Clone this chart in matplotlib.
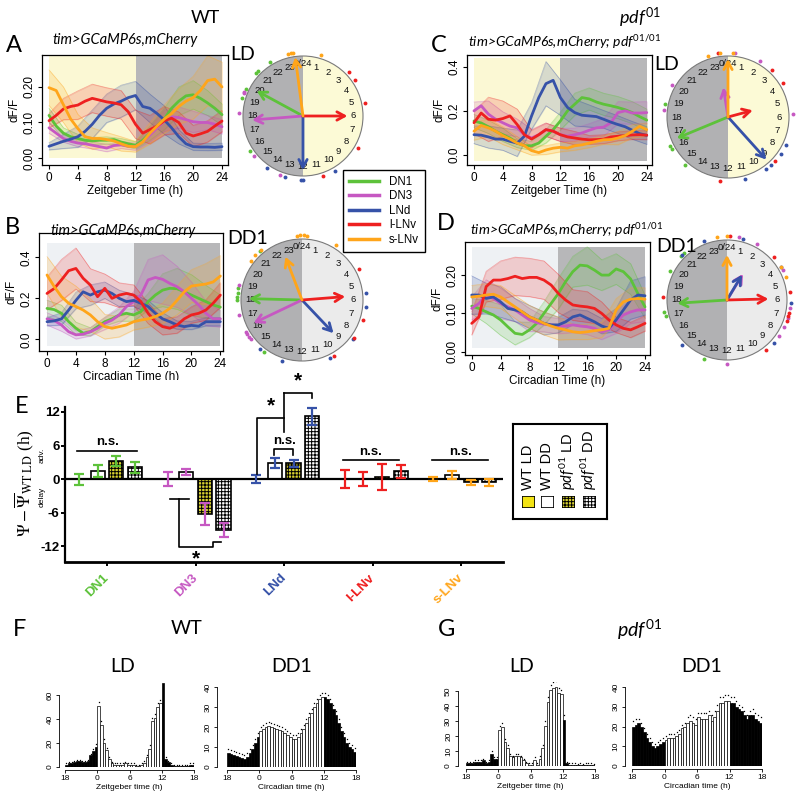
import numpy as np
import matplotlib
matplotlib.use('Agg')
import matplotlib.pyplot as plt
from matplotlib.patches import Wedge, Circle, Rectangle
from matplotlib.lines import Line2D

plt.rcParams['font.family'] = ['Liberation Sans', 'DejaVu Sans']
plt.rcParams['mathtext.fontset'] = 'custom'
plt.rcParams['mathtext.it'] = 'Lato:italic'
plt.rcParams['mathtext.rm'] = 'Lato'
plt.rcParams['mathtext.bf'] = 'Lato:bold'
plt.rcParams['hatch.linewidth'] = 0.7

# ---------------- data ----------------
cells = ['DN1', 'DN3', 'LNd', 'l-LNv', 's-LNv']
cell_colors = ['#5dc23a', '#c658c2', '#3652a8', '#ee2020', '#ffa51a']
hours = list(range(25))
hours2 = list(range(0, 25, 2))

# Panel A (WT, LD)
A_DN1 = [0.12,0.09,0.07,0.06,0.055,0.05,0.048,0.05,0.05,0.052,0.045,0.04,0.036,0.05,0.07,0.09,0.11,0.14,0.16,0.175,0.178,0.168,0.155,0.14,0.122]
A_DN3 = [0.085,0.07,0.055,0.047,0.042,0.04,0.036,0.032,0.028,0.035,0.037,0.033,0.032,0.045,0.065,0.085,0.105,0.116,0.114,0.108,0.102,0.1,0.1,0.095,0.088]
A_LNd = [0.033,0.04,0.047,0.053,0.06,0.075,0.095,0.12,0.14,0.152,0.16,0.17,0.176,0.145,0.14,0.125,0.107,0.085,0.06,0.04,0.032,0.031,0.031,0.03,0.032]
A_lLNv = [0.105,0.12,0.138,0.145,0.149,0.16,0.168,0.163,0.158,0.155,0.15,0.13,0.095,0.07,0.08,0.09,0.105,0.112,0.1,0.07,0.062,0.068,0.075,0.09,0.104]
A_sLNv = [0.198,0.19,0.15,0.11,0.083,0.06,0.055,0.055,0.052,0.048,0.04,0.033,0.032,0.045,0.07,0.09,0.11,0.125,0.145,0.16,0.17,0.19,0.218,0.222,0.2]
semA_DN1 = [0.02,0.015,0.012,0.01,0.01,0.01,0.01,0.02,0.03,0.04,0.04,0.035,0.03]
semA_DN3 = [0.015,0.01,0.01,0.01,0.01,0.01,0.01,0.02,0.03,0.03,0.03,0.02,0.02]
semA_LNd = [0.01,0.02,0.03,0.04,0.04,0.045,0.04,0.04,0.04,0.02,0.01,0.01,0.01]
semA_lLNv = [0.02,0.03,0.04,0.04,0.04,0.04,0.04,0.04,0.04,0.03,0.03,0.03,0.03]
semA_sLNv = [0.05,0.05,0.04,0.03,0.02,0.02,0.015,0.03,0.04,0.05,0.06,0.07,0.07]

# Panel B (WT, DD1)
B_DN1 = [0.151,0.145,0.127,0.086,0.054,0.03,0.037,0.062,0.086,0.1,0.119,0.127,0.119,0.135,0.184,0.216,0.24,0.249,0.247,0.232,0.216,0.2,0.184,0.168,0.157]
B_DN3 = [0.1,0.092,0.07,0.037,0.022,0.025,0.037,0.054,0.078,0.094,0.119,0.16,0.184,0.216,0.29,0.302,0.293,0.273,0.257,0.232,0.2,0.168,0.127,0.1,0.1]
B_LNd = [0.086,0.09,0.1,0.143,0.19,0.232,0.216,0.232,0.24,0.224,0.2,0.184,0.19,0.176,0.16,0.127,0.1,0.086,0.07,0.062,0.068,0.064,0.086,0.086,0.086]
B_lLNv = [0.224,0.248,0.29,0.335,0.346,0.298,0.265,0.208,0.249,0.2,0.216,0.224,0.216,0.184,0.127,0.086,0.062,0.054,0.07,0.1,0.119,0.127,0.143,0.176,0.216]
B_sLNv = [0.314,0.257,0.208,0.176,0.16,0.143,0.119,0.086,0.062,0.054,0.062,0.07,0.086,0.094,0.1,0.111,0.127,0.151,0.19,0.232,0.26,0.265,0.27,0.28,0.309]
semB_DN1 = [0.04,0.04,0.03,0.02,0.02,0.03,0.03,0.04,0.08,0.1,0.1,0.08,0.06]
semB_DN3 = [0.03,0.03,0.02,0.02,0.03,0.04,0.05,0.1,0.12,0.1,0.08,0.06,0.04]
semB_LNd = [0.02,0.03,0.04,0.05,0.04,0.04,0.03,0.03,0.03,0.02,0.02,0.02,0.02]
semB_lLNv = [0.08,0.1,0.1,0.08,0.07,0.06,0.05,0.05,0.04,0.04,0.04,0.05,0.06]
semB_sLNv = [0.09,0.1,0.1,0.08,0.06,0.05,0.04,0.04,0.05,0.07,0.08,0.1,0.1]

# Panel C (pdf01, LD)
C_DN1 = [0.154,0.145,0.128,0.108,0.092,0.077,0.054,0.042,0.042,0.054,0.085,0.115,0.154,0.2,0.23,0.26,0.254,0.24,0.23,0.223,0.215,0.205,0.192,0.174,0.158]
C_DN3 = [0.2,0.223,0.185,0.162,0.146,0.131,0.123,0.092,0.077,0.092,0.115,0.108,0.092,0.085,0.092,0.1,0.112,0.123,0.126,0.146,0.192,0.2,0.19,0.19,0.192]
C_LNd = [0.092,0.09,0.082,0.072,0.072,0.062,0.054,0.085,0.177,0.26,0.323,0.338,0.26,0.215,0.192,0.18,0.177,0.174,0.162,0.149,0.138,0.128,0.112,0.097,0.089]
C_lLNv = [0.146,0.19,0.162,0.158,0.165,0.177,0.138,0.092,0.072,0.092,0.115,0.108,0.092,0.082,0.077,0.072,0.069,0.07,0.072,0.082,0.085,0.088,0.091,0.092,0.09]
C_sLNv = [0.108,0.134,0.123,0.108,0.088,0.072,0.054,0.042,0.02,0.011,0.023,0.031,0.035,0.031,0.042,0.046,0.054,0.062,0.069,0.07,0.077,0.088,0.108,0.13,0.115]
semC_DN1 = [0.03,0.03,0.03,0.02,0.02,0.03,0.04,0.05,0.05,0.05,0.05,0.05,0.05]
semC_DN3 = [0.04,0.06,0.05,0.04,0.04,0.03,0.03,0.03,0.03,0.04,0.05,0.05,0.05]
semC_LNd = [0.04,0.05,0.05,0.06,0.06,0.1,0.08,0.06,0.05,0.04,0.04,0.04,0.04]
semC_lLNv = [0.05,0.1,0.08,0.07,0.04,0.03,0.03,0.03,0.02,0.02,0.02,0.02,0.02]
semC_sLNv = [0.04,0.04,0.04,0.03,0.02,0.02,0.02,0.02,0.02,0.02,0.03,0.03,0.03]

# Panel D (pdf01, DD1)
D_DN1 = [0.119,0.113,0.104,0.096,0.083,0.065,0.048,0.045,0.057,0.074,0.1,0.126,0.152,0.183,0.209,0.226,0.224,0.213,0.2,0.2,0.216,0.209,0.19,0.152,0.117]
D_DN3 = [0.113,0.126,0.148,0.139,0.126,0.117,0.109,0.096,0.083,0.076,0.072,0.07,0.067,0.067,0.07,0.067,0.065,0.061,0.052,0.057,0.078,0.096,0.104,0.109,0.109]
D_LNd = [0.148,0.148,0.139,0.143,0.13,0.113,0.109,0.104,0.091,0.083,0.074,0.07,0.07,0.078,0.091,0.096,0.087,0.078,0.067,0.061,0.083,0.109,0.135,0.148,0.146]
D_lLNv = [0.074,0.091,0.17,0.187,0.187,0.191,0.197,0.191,0.194,0.194,0.187,0.174,0.152,0.135,0.122,0.119,0.117,0.113,0.1,0.083,0.07,0.061,0.057,0.065,0.074]
D_sLNv = [0.143,0.145,0.148,0.15,0.143,0.13,0.117,0.104,0.091,0.083,0.074,0.067,0.061,0.057,0.052,0.05,0.052,0.055,0.057,0.061,0.109,0.13,0.137,0.139,0.137]
semD_DN1 = [0.02,0.03,0.04,0.03,0.02,0.03,0.04,0.04,0.05,0.04,0.04,0.04,0.03]
semD_DN3 = [0.03,0.04,0.04,0.03,0.03,0.02,0.02,0.02,0.02,0.02,0.03,0.03,0.03]
semD_LNd = [0.05,0.04,0.04,0.03,0.03,0.03,0.02,0.02,0.02,0.02,0.03,0.05,0.05]
semD_lLNv = [0.03,0.04,0.05,0.05,0.05,0.05,0.05,0.04,0.04,0.03,0.02,0.02,0.02]
semD_sLNv = [0.03,0.03,0.03,0.03,0.03,0.03,0.03,0.02,0.02,0.02,0.03,0.03,0.03]

# Phase clocks: mean phase (h), vector length (fraction of radius), individual phases
clkA_phase = [19.9, 17.7, 12.0, 6.0, 23.5]
clkA_len = [0.88, 0.85, 0.90, 0.74, 0.99]
clkB_phase = [18.1, 16.3, 9.1, 5.7, 22.6]
clkB_len = [0.87, 0.88, 0.75, 0.71, 0.76]
clkC_phase = [16.5, 23.4, 9.2, 5.0, 0.0]
clkC_len = [0.91, 0.49, 0.94, 0.42, 0.95]
clkD_phase = [17.75, 2.1, 2.05, 5.9, 0.0]
clkD_len = [0.83, 0.51, 0.49, 0.69, 0.75]
dotsA = [[15.8, 19.1, 19.7, 20.8, 21.0, 21.9], [13.4, 15.4, 18.2, 19.4, 19.5],
         [10.0, 12.0, 12.1, 13.1, 14.3], [3.1, 3.7, 5.2, 8.0, 10.8], [23.1, 23.3, 23.4, 1.1]]
dotsB = [[21.3, 18.4, 18.0, 18.7, 14.4, 18.2], [18.9, 17.1, 15.7, 15.5, 15.9, 16.0],
         [5.6, 6.4, 8.5, 10.3, 13.2, 14.7], [4.1, 7.2, 8.4, 10.0],
         [23.7, 23.9, 0.1, 0.3, 2.1, 20.5, 20.9, 21.4]]
dotsC = [[18.8, 16.2, 16.0, 14.8], [0.4, 2.0, 5.8, 20.0, 18.4],
         [7.7, 8.3, 9.2, 9.6, 11.0], [23.4, 2.85, 3.9, 8.85, 12.5], [22.8, 23.5, 0.3]]
dotsD = [[21.2, 20.9, 19.8, 17.3, 17.0, 13.4], [0.7, 1.9, 7.7, 7.1, 6.5, 12.0, 4.1, 8.3],
         [1.0, 22.6, 21.0, 3.9, 6.2, 8.8, 15.0], [3.2, 5.5, 6.8, 7.0, 7.3, 9.5, 18.2, 0.2],
         [23.4, 0.0, 3.9, 4.6]]

# Panel E: phase differences (h)
E_WT_LD = [0.0, 0.0, 0.0, 0.0, 0.0]
E_WT_LD_err = [1.0, 1.3, 0.7, 1.6, 0.4]
E_WT_DD = [1.5, 1.3, 2.8, 0.0, 0.8]
E_WT_DD_err = [1.1, 0.5, 0.9, 1.3, 0.7]
E_pdf_LD = [3.3, -6.2, 2.8, 0.4, -0.6]
E_pdf_LD_err = [0.9, 2.0, 0.65, 2.3, 0.5]
E_pdf_DD = [2.1, -9.1, 11.2, 1.4, -0.6]
E_pdf_DD_err = [1.0, 1.2, 1.5, 1.2, 0.7]

# Panels F, G: activity (counts per 30 min, from ZT/CT18 to 18)
F_LD = [2,3,3,4,5,5,4,4,5,10,13,17, 51,35,20,14,7,3,2,2,2,2,3,2,
        2,2,1,1,2,3,8,15,38,41,50,53, 70,7,4,2,1,1,1,1,1,1,2,2]
F_LD_err = [1,1,1,1,1,1,1,1,1,1,2,2, 3,3,3,2,1,1,1,1,1,1,1,1,
            1,1,1,1,1,2,2,3,3,3,3,3, 3,1,1,1,1,1,1,1,1,1,1,1]
F_DD = [7,6.5,6,5.5,5,4.5,4,5,7,9,12,15, 18,19,20,20.5,20,19.5,19,18.5,18,17,16,15,
        14,14,15,17,19,22,25,27,30,32,34,35, 35,34,32,29,26,22,18,15,12,10,9,7.5]
F_DD_err = [2,2,2,2,2,2,2,2,2,2,2,2, 2,2,2,2,2,2,2,2,2,2,2,2,
            2,2,2,2,2,2,2,2,2,2,2,2, 2,2,2,2,2,2,2,2,2,2,2,2]
G_LD = [2,2,2,3,3,3,4,2,3,8,5,5, 24,26,16,12,7,6,7,7,6,4,2,1,
        1,4,1,5,12,27,43,51,52,53,49,48, 31,2,1,1,1,0.5,1,0.5,1,1,1,0.5]
G_LD_err = [1,1,1,1,1,1,1,1,1,2,1,1, 3,3,2,2,1,1,1,1,1,1,1,1,
            1,2,1,2,2,3,3,3,4,4,3,3, 3,1,1,1,1,1,1,1,1,1,1,1]
G_DD = [20,21,22,20,17,14,12,10,9,10,11,12, 13,14,14,14,15,16,19,20,22,23,22,21,
        25,24,24,24,26,23,25,28,32,32,33,33, 32,32,30,29,28,26,24,26,26,24,23,22]
G_DD_err = [3,3,2,2,2,2,2,2,2,2,2,2, 2,2,2,2,2,2,2,2,3,3,3,3,
            2,3,3,3,2,3,3,3,3,3,3,3, 3,3,3,2,2,2,2,2,3,3,3,3]

# ---------------- figure ----------------
W, H = 800, 797
fig = plt.figure(figsize=(8, 7.97), dpi=100)
HEAD = 'Lato'


def rect(l, t, r, b):
    return [l / W, 1 - b / H, (r - l) / W, (b - t) / H]


def ftext(x, y, s, **kw):
    return fig.text(x / W, 1 - y / H, s, **kw)


def trace_panel(box, means, sems, xlim, ylim, yticks, ylabs, shade, light, xlabel):
    ax = fig.add_axes(rect(*box))
    ax.add_patch(Rectangle((0, shade[0]), 12, shade[1] - shade[0], fc=light, ec='none', zorder=0))
    ax.add_patch(Rectangle((12, shade[0]), 12, shade[1] - shade[0], fc='#b7b7b9', ec='none', zorder=0))
    for m, s, c in zip(means, sems, cell_colors):
        m = np.array(m)
        s = np.array(s)
        mc = m[::2]
        ax.fill_between(hours2, mc - s, mc + s, color=c, alpha=0.18, lw=0.6, zorder=1)
        ax.plot(hours2, mc - s, color=c, alpha=0.35, lw=0.5, zorder=1)
        ax.plot(hours2, mc + s, color=c, alpha=0.35, lw=0.5, zorder=1)
    for m, c in zip(means, cell_colors):
        ax.plot(hours, m, color=c, lw=2, zorder=3, solid_capstyle='round')
    ax.set_xlim(*xlim)
    ax.set_ylim(*ylim)
    ax.set_xticks([0, 4, 8, 12, 16, 20, 24])
    ax.set_yticks(yticks)
    ax.set_yticklabels(ylabs, rotation=90, va='center')
    ax.tick_params(direction='out', length=3, width=0.8, labelsize=8.5, pad=2)
    for sp in ax.spines.values():
        sp.set_linewidth(0.9)
    ax.set_xlabel(xlabel, fontsize=8.5, labelpad=1)
    ax.set_ylabel('dF/F', fontsize=8.5, labelpad=2)
    return ax


def clock(cx, cy, r, dd, phases, lens, dots):
    s = r * 1.35
    ax = fig.add_axes(rect(cx - s, cy - s, cx + s, cy + s))
    ax.set_xlim(-1.35, 1.35)
    ax.set_ylim(-1.35, 1.35)
    ax.axis('off')
    right = '#ebebeb' if dd else '#fcfad6'
    ax.add_patch(Wedge((0, 0), 1, -90, 90, fc=right, ec='none'))
    ax.add_patch(Wedge((0, 0), 1, 90, 270, fc='#b1b1b3', ec='none'))
    ax.add_patch(Circle((0, 0), 1, fc='none', ec='#7a7a7a', lw=0.8))
    for h in range(24):
        th = np.deg2rad(90 - 15 * h)
        lab = '0/24' if h == 0 else str(h)
        rr = 0.87 if h == 0 else 0.84
        ax.text(rr * np.cos(th), rr * np.sin(th), lab, ha='center', va='center',
                fontsize=6.8, color='#111111')
    for ph_list, c in zip(dots, cell_colors):
        for ph in ph_list:
            th = np.deg2rad(90 - 15 * ph)
            ax.plot(1.06 * np.cos(th), 1.06 * np.sin(th), 'o', ms=2.8, color=c, mec='none',
                    clip_on=False)
    for ph, L, c in zip(phases, lens, cell_colors):
        th = np.deg2rad(90 - 15 * ph)
        ax.annotate('', xy=(L * np.cos(th), L * np.sin(th)), xytext=(0, 0),
                    arrowprops=dict(arrowstyle='->,head_length=0.55,head_width=0.3', color=c,
                                    lw=2, shrinkA=0, shrinkB=0))
    return ax


# headers
ftext(205, 18, 'WT', fontsize=13, family=HEAD, ha='center', va='center')
ftext(640, 18, r'$\mathit{pdf}^{\mathit{01}}$', fontsize=13, ha='center', va='center')
for lab, x, y in [('A', 14, 46), ('B', 12, 227), ('C', 439, 45), ('D', 446, 223),
                  ('E', 22, 407), ('F', 20, 629), ('G', 447, 629)]:
    ftext(x, y, lab, fontsize=17, family=HEAD, ha='center', va='center')

ftext(52, 40, 'tim>GCaMP6s,mCherry', fontsize=10.5, family=HEAD, style='italic', va='center')
ftext(50, 231, 'tim>GCaMP6s,mCherry', fontsize=10.5, family=HEAD, style='italic', va='center')
ftext(468, 42, r'tim>GCaMP6s,mCherry; $\mathit{pdf}^{\mathit{01/01}}$', fontsize=10,
      family=HEAD, style='italic', va='center')
ftext(470, 230, r'tim>GCaMP6s,mCherry; $\mathit{pdf}^{\mathit{01/01}}$', fontsize=10,
      family=HEAD, style='italic', va='center')
ftext(243, 55, 'LD', fontsize=14, family=HEAD, ha='center', va='center')
ftext(667, 65, 'LD', fontsize=14, family=HEAD, ha='center', va='center')
ftext(248, 239, 'DD1', fontsize=14, family=HEAD, ha='center', va='center')
ftext(677, 247, 'DD1', fontsize=14, family=HEAD, ha='center', va='center')

# panels A-D traces
trace_panel((42, 55, 228, 165), [A_DN1, A_DN3, A_LNd, A_lLNv, A_sLNv],
            [semA_DN1, semA_DN3, semA_LNd, semA_lLNv, semA_sLNv],
            (-0.97, 24.83), (-0.0197, 0.290), [0, 0.1, 0.2], ['0.00', '0.10', '0.20'],
            (0.0, 0.286), '#fbf8d4', 'Zeitgeber Time (h)')
trace_panel((39, 233, 223, 351), [B_DN1, B_DN3, B_LNd, B_lLNv, B_sLNv],
            [semB_DN1, semB_DN3, semB_LNd, semB_lLNv, semB_sLNv],
            (-1.11, 24.37), (-0.057, 0.519), [0, 0.2, 0.4], ['0.0', '0.2', '0.4'],
            (-0.033, 0.47), '#eef1f4', 'Circadian Time (h)')
trace_panel((467, 55, 652, 165), [C_DN1, C_DN3, C_LNd, C_lLNv, C_sLNv],
            [semC_DN1, semC_DN3, semC_LNd, semC_lLNv, semC_sLNv],
            (-0.97, 24.73), (-0.045, 0.4525), [0, 0.2, 0.4], ['0.0', '0.2', '0.4'],
            (-0.026, 0.439), '#fbf8d4', 'Zeitgeber Time (h)')
trace_panel((465, 242, 650, 355), [D_DN1, D_DN3, D_LNd, D_lLNv, D_sLNv],
            [semD_DN1, semD_DN3, semD_LNd, semD_lLNv, semD_sLNv],
            (-0.93, 24.69), (-0.0086, 0.2864), [0, 0.1, 0.2], ['0.00', '0.10', '0.20'],
            (0.0104, 0.273), '#eef1f4', 'Circadian Time (h)')

clock(303, 116, 60, False, clkA_phase, clkA_len, dotsA)
clock(302, 300, 61, True, clkB_phase, clkB_len, dotsB)
clock(728, 117, 61, False, clkC_phase, clkC_len, dotsC)
clock(727, 300, 60, True, clkD_phase, clkD_len, dotsD)

handles = [Line2D([], [], color=c, lw=2.5) for c in cell_colors]
fig.legend(handles, cells, loc='upper left', bbox_to_anchor=(343 / W, 1 - 170 / H),
           borderaxespad=0, frameon=True, fancybox=False, edgecolor='black', framealpha=1,
           fontsize=8.3, handlelength=2.6, borderpad=0.5, labelspacing=0.22, handletextpad=0.9)

# ---------------- panel E ----------------
axE = fig.add_axes(rect(65, 380, 503, 562))
axE.set_xlim(-0.475, 4.47)
axE.set_ylim(-14.8, 17.7)
offs = [-0.315, -0.105, 0.105, 0.315]
series = [(E_WT_LD, E_WT_LD_err, '#f2e313', None),
          (E_WT_DD, E_WT_DD_err, 'white', None),
          (E_pdf_LD, E_pdf_LD_err, '#d8d030', '+++++'),
          (E_pdf_DD, E_pdf_DD_err, 'white', '+++++')]
xs = np.arange(5)
for j, (vals, errs, fc, hatch) in enumerate(series):
    axE.bar(xs + offs[j], vals, 0.16, color=fc, edgecolor='black', hatch=hatch, lw=1.2, zorder=2)
    for i in range(5):
        axE.errorbar(xs[i] + offs[j], vals[i], yerr=errs[i], color=cell_colors[i], capsize=3.5,
                     elinewidth=1.6, capthick=1.6, zorder=4)
axE.plot([-0.475, 4.47], [0, 0], color='black', lw=1.6, zorder=3)
axE.spines['top'].set_visible(False)
axE.spines['right'].set_visible(False)
axE.spines['left'].set_bounds(-14.8, 12.9)
axE.spines['left'].set_linewidth(1.6)
axE.spines['bottom'].set_linewidth(2)
axE.set_yticks([-12, -6, 0, 6, 12])
axE.set_yticklabels(['-12', '-6', '0', '6', '12'], fontweight='bold', fontsize=9.5)
axE.set_xticks(xs)
axE.set_xticklabels(cells, rotation=45, ha='right', va='center', rotation_mode='anchor',
                    fontweight='bold', fontsize=9.5)
for tl, c in zip(axE.get_xticklabels(), cell_colors):
    tl.set_color(c)
axE.tick_params(axis='y', direction='out', length=3, width=1.4, pad=1)
axE.tick_params(axis='x', direction='out', length=3, width=1.4, pad=7)

kw = dict(color='black', lw=1.2, clip_on=False, zorder=5)
# DN1 n.s.
axE.plot([-0.34, 0.34], [5.05, 5.05], **kw)
axE.text(0.0, 5.5, 'n.s.', ha='center', va='bottom', fontsize=9.5, fontweight='bold')
# DN3 *
axE.plot([0.71, 0.92], [-3.6, -3.6], **kw)
axE.plot([0.81, 0.81, 1.2, 1.2, 1.29], [-3.6, -12.2, -12.2, -11.3, -11.3], **kw)
axE.text(1.0, -12.6, '*', ha='center', va='top', fontsize=15, fontweight='bold')
# LNd
axE.plot([1.69, 1.69, 2.0], [0.9, 10.9, 10.9], **kw)
axE.plot([2.0, 2.0], [8.4, 15.3], **kw)
axE.plot([2.0, 2.31, 2.31], [15.3, 15.3, 14.4], **kw)
axE.plot([1.88, 1.88, 2.1, 2.1], [4.3, 5.3, 5.3, 4.3], **kw)
axE.text(2.0, 5.8, 'n.s.', ha='center', va='bottom', fontsize=9.5, fontweight='bold')
axE.text(1.85, 11.3, '*', ha='center', va='bottom', fontsize=15, fontweight='bold')
axE.text(2.15, 15.8, '*', ha='center', va='bottom', fontsize=15, fontweight='bold')
# l-LNv, s-LNv n.s.
axE.plot([2.665, 3.3], [3.4, 3.4], **kw)
axE.text(2.98, 3.85, 'n.s.', ha='center', va='bottom', fontsize=9.5, fontweight='bold')
axE.plot([3.67, 4.305], [3.4, 3.4], **kw)
axE.text(3.99, 3.85, 'n.s.', ha='center', va='bottom', fontsize=9.5, fontweight='bold')

ftext(24, 483, r'$\Psi-\overline{\Psi}_{\mathrm{WT\ LD}}$ (h)', rotation=90, ha='center',
      va='center', fontsize=12.5, math_fontfamily='stix', family='Liberation Serif')
ftext(42, 455, 'adv.', rotation=90, ha='center', va='center', fontsize=6)
ftext(42, 497, 'delay', rotation=90, ha='center', va='center', fontsize=6)

# legend E
axL = fig.add_axes(rect(513, 424, 607, 519))
axL.set_xticks([])
axL.set_yticks([])
for sp in axL.spines.values():
    sp.set_linewidth(1.5)
leg_labels = ['WT LD', 'WT DD', r'$\mathit{pdf}^{\mathit{01}}$ LD', r'$\mathit{pdf}^{\mathit{01}}$ DD']
leg_x = [528, 547, 568, 589]
for lab, x, (_, _, fc, hatch) in zip(leg_labels, leg_x, series):
    ftext(x, 490, lab, rotation=90, ha='center', va='bottom', fontsize=10.5)
    sw = fig.add_axes(rect(x - 6.5, 496, x + 6.5, 508))
    sw.add_patch(Rectangle((0, 0), 1, 1, fc=fc, ec='black', hatch=hatch, lw=1.2,
                           transform=sw.transAxes))
    sw.axis('off')


# ---------------- panels F, G ----------------
def actogram(l, r, b, pxu, ymax, ytop, ystep, vals, errs, spine_out, xlabel):
    t = b - ymax * pxu
    ax = fig.add_axes(rect(l, t, r, b))
    x = -6 + 0.25 + 0.5 * np.arange(48)
    cols = ['white' if 12 <= i < 36 else 'black' for i in range(48)]
    ax.bar(x, vals, width=0.5, color=cols, edgecolor='black', lw=0.5)
    ax.plot(x, np.array(vals) + np.array(errs), ls='none', marker='s', ms=0.9,
            color='black', mec='none')
    ax.set_xlim(-6, 18)
    ax.set_ylim(0, ymax)
    ax.spines['top'].set_visible(False)
    ax.spines['right'].set_visible(False)
    ax.spines['left'].set_position(('outward', spine_out))
    ax.spines['bottom'].set_position(('outward', 2))
    ax.spines['left'].set_bounds(0, ytop)
    ax.spines['bottom'].set_bounds(-6, 18)
    for sp in ax.spines.values():
        sp.set_linewidth(0.6)
    ax.set_xticks([-6, 0, 6, 12, 18])
    ax.set_xticklabels(['18', '0', '6', '12', '18'])
    yt = list(range(0, ytop + 1, ystep))
    ax.set_yticks(yt)
    ax.set_yticklabels([str(v) for v in yt], rotation=90, va='center')
    ax.tick_params(direction='out', length=2.5, width=0.6, labelsize=6, pad=1.5)
    ax.set_xlabel(xlabel, fontsize=6, labelpad=1)
    return ax


ftext(187, 629, 'WT', fontsize=14, family=HEAD, ha='center', va='center')
ftext(640, 630, r'$\mathit{pdf}^{\mathit{01}}$', fontsize=14, ha='center', va='center')
ftext(123, 667, 'LD', fontsize=14, family=HEAD, ha='center', va='center')
ftext(292, 667, 'DD1', fontsize=14, family=HEAD, ha='center', va='center')
ftext(522, 667, 'LD', fontsize=14, family=HEAD, ha='center', va='center')
ftext(702, 667, 'DD1', fontsize=14, family=HEAD, ha='center', va='center')

actogram(65, 194, 767, 1.2, 72, 60, 20, F_LD, F_LD_err, 4, 'Zeitgeber time (h)')
actogram(227, 356, 767, 2.0, 42, 40, 10, F_DD, F_DD_err, 7, 'Circadian time (h)')
actogram(466, 595, 766, 1.5, 56, 50, 10, G_LD, G_LD_err, 6, 'Zeitgeber time (h)')
actogram(632, 762, 766, 1.975, 42, 40, 10, G_DD, G_DD_err, 5, 'Circadian time (h)')

fig.savefig('out.png', dpi=100)
